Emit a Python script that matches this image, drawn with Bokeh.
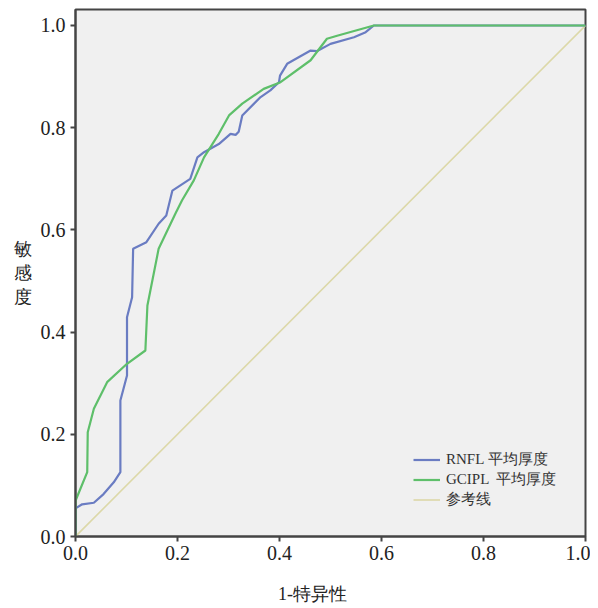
from bokeh.plotting import figure
from bokeh.models import Range1d, Legend, LegendItem, FixedTicker
from bokeh.embed import file_html
from bokeh.resources import INLINE

# ROC data
rnfl_fpr = [0, 0, 0.013, 0.036, 0.055, 0.075, 0.088, 0.088, 0.101, 0.101, 0.111, 0.113,
            0.139, 0.163, 0.178, 0.19, 0.225, 0.239, 0.252, 0.281, 0.304, 0.314, 0.320,
            0.327, 0.363, 0.382, 0.399, 0.401, 0.415, 0.461, 0.474, 0.5, 0.546, 0.569,
            0.585, 1.0]
rnfl_tpr = [0, 0.055, 0.063, 0.066, 0.083, 0.106, 0.126, 0.266, 0.315, 0.429, 0.468, 0.563,
            0.576, 0.612, 0.628, 0.677, 0.700, 0.742, 0.752, 0.768, 0.788, 0.786, 0.792,
            0.824, 0.860, 0.873, 0.889, 0.902, 0.925, 0.951, 0.950, 0.964, 0.977, 0.987,
            1.0, 1.0]
gcipl_fpr = [0, 0, 0.023, 0.024, 0.036, 0.062, 0.101, 0.137, 0.141, 0.163, 0.196, 0.209,
             0.232, 0.252, 0.281, 0.301, 0.327, 0.369, 0.402, 0.461, 0.493, 0.513, 0.585, 1.0]
gcipl_tpr = [0, 0.070, 0.126, 0.204, 0.25, 0.302, 0.338, 0.364, 0.452, 0.563, 0.632, 0.658,
             0.697, 0.742, 0.788, 0.824, 0.847, 0.876, 0.889, 0.932, 0.974, 0.980, 1.0, 1.0]
ref_x = [0, 1]
ref_y = [0, 1]
tick_values = [0.0, 0.2, 0.4, 0.6, 0.8, 1.0]
series_names = ["RNFL 平均厚度", "GCIPL  平均厚度", "参考线"]
x_title = "1-特异性"
y_title = "敏\n感\n度"

SERIF = "Liberation Serif"

p = figure(width=590, height=606, output_backend="svg", toolbar_location=None,
           x_range=Range1d(0, 1), y_range=Range1d(0, 1.0313))
p.min_border_left = 75
p.min_border_right = 5
p.min_border_top = 9
p.min_border_bottom = 70
p.background_fill_color = "#f0f0f0"
p.border_fill_color = "white"
p.outline_line_color = "#444444"
p.outline_line_width = 2
p.grid.visible = False

for ax in (p.xaxis[0], p.yaxis[0]):
    ax.ticker = FixedTicker(ticks=tick_values)
    ax.minor_tick_line_color = None
    ax.major_tick_out = 5
    ax.major_tick_in = 0
    ax.axis_line_color = "#444444"
    ax.axis_line_width = 2
    ax.major_tick_line_color = "#444444"
    ax.major_tick_line_width = 2
    ax.major_label_text_font = SERIF
    ax.major_label_text_font_size = "20px"
    ax.major_label_text_color = "#222222"
    ax.major_label_standoff = 4
    ax.axis_label_text_font = SERIF
    ax.axis_label_text_font_size = "18px"
    ax.axis_label_text_font_style = "normal"
    ax.axis_label_text_color = "#222222"
p.xaxis[0].major_label_overrides = {v: f"{v:.1f}" for v in tick_values}
p.yaxis[0].major_label_overrides = {v: f"{v:.1f}" for v in tick_values}
p.yaxis[0].major_label_standoff = 5
p.xaxis[0].major_label_standoff = 4
p.xaxis[0].axis_label = x_title + "\u2003\u2003"
p.xaxis[0].axis_label_standoff = 21
p.yaxis[0].axis_label = y_title
p.yaxis[0].axis_label_orientation = "horizontal"
p.yaxis[0].axis_label_standoff = 6

r_ref = p.line(ref_x, ref_y, line_color="#dcd8a8", line_width=1.6)
r_rnfl = p.line(rnfl_fpr, rnfl_tpr, line_color="#6a7cc2", line_width=2.2)
r_gcipl = p.line(gcipl_fpr, gcipl_tpr, line_color="#5ebf6a", line_width=2.2)

legend = Legend(items=[LegendItem(label=series_names[0], renderers=[r_rnfl]),
                       LegendItem(label=series_names[1], renderers=[r_gcipl]),
                       LegendItem(label=series_names[2], renderers=[r_ref])],
                location=(338, 27), padding=0, margin=0, spacing=1,
                glyph_width=27, glyph_height=19, label_height=19, label_standoff=6,
                border_line_color=None, background_fill_alpha=0,
                label_text_font=SERIF, label_text_font_size="15px",
                label_text_color="#333333")
p.add_layout(legend)

open("out.html", "w").write(file_html(p, INLINE))
